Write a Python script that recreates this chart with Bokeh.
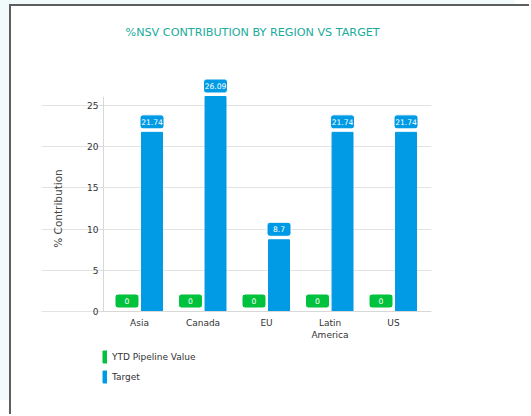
from math import pi
from bokeh.plotting import figure
from bokeh.models import (ColumnDataSource, Range1d, LabelSet, Label, Legend, LegendItem,
                          FixedTicker)
from bokeh.core.properties import value
from bokeh.embed import file_html
from bokeh.resources import INLINE

# ---- data ----
regions = ["Asia", "Canada", "EU", "Latin\nAmerica", "US"]
ytd_pipeline = [0, 0, 0, 0, 0]
target = [21.74, 26.09, 8.7, 21.74, 21.74]
ytd_labels = ["0", "0", "0", "0", "0"]
target_labels = ["21.74", "26.09", "8.7", "21.74", "21.74"]
y_ticks = [0, 5, 10, 15, 20, 25]
title_text = "%NSV CONTRIBUTION BY REGION VS TARGET"
y_title = "% Contribution"

GREEN = "#00c23c"
BLUE = "#009be4"
FONT = "DejaVu Sans"

idx = list(range(len(regions)))
off = 0.197
y_top = max(target)
px_per_unit = 215 / y_top          # vertical pixels per data unit
px_per_cat = 63.5                  # horizontal pixels per category
AXIS_X = -0.567                    # where the value axis sits
X_END = 4.598
lab_off = 10.5 / px_per_unit

src_g = ColumnDataSource(dict(x=[i - off for i in idx], top=ytd_pipeline,
                              ly=[v + lab_off for v in ytd_pipeline], txt=ytd_labels))
src_b = ColumnDataSource(dict(x=[i + off for i in idx], top=target,
                              ly=[v + lab_off for v in target], txt=target_labels))

# frame extends left of the value axis (axis title), above the top value
# (chart title, value labels) and below zero (legend); axes/grid are bounded.
p = figure(width=520, height=410, output_backend="svg", toolbar_location=None,
           x_range=Range1d(AXIS_X - 62 / px_per_cat, X_END),
           y_range=Range1d(-74 / px_per_unit, y_top + 80 / px_per_unit),
           min_border_left=30, min_border_top=10, min_border_right=100,
           min_border_bottom=31)
p.outline_line_color = None
p.background_fill_color = "white"
p.border_fill_color = "white"

r_g = p.vbar(x="x", top="top", width=0.33, source=src_g, fill_color=GREEN, line_color=GREEN)
r_b = p.vbar(x="x", top="top", width=0.33, source=src_b, fill_color=BLUE, line_color=BLUE)

# label boxes
p.rect(x="x", y="ly", width=24, height=14, width_units="screen", height_units="screen",
       source=src_g, fill_color=GREEN, line_color="white", line_width=1, border_radius=3)
p.rect(x="x", y="ly", width=24, height=14, width_units="screen", height_units="screen",
       source=src_b, fill_color=BLUE, line_color="white", line_width=1, border_radius=3)
for s in (src_g, src_b):
    p.add_layout(LabelSet(x="x", y="ly", text="txt", source=s, text_align="center",
                          text_baseline="middle", text_color="white",
                          text_font_size="7.6px", text_font=value(FONT)))

# axes
p.xaxis.fixed_location = 0
p.xaxis.bounds = (AXIS_X, X_END)
p.xaxis.ticker = FixedTicker(ticks=idx)
p.xaxis.major_label_overrides = {i: r for i, r in zip(idx, regions)}
p.xaxis.major_tick_line_color = None
p.xaxis.minor_tick_line_color = None
p.xaxis.axis_line_color = "#d8d8d8"
p.xaxis.major_label_text_font = FONT
p.xaxis.major_label_text_font_size = "9px"
p.xaxis.major_label_text_color = "#333333"
p.xaxis.major_label_standoff = 0

p.yaxis.fixed_location = AXIS_X
p.yaxis.ticker = FixedTicker(ticks=y_ticks)
p.yaxis.bounds = (0, y_top)
p.yaxis.axis_line_color = "#d8d8d8"
p.yaxis.major_tick_line_color = "#d8d8d8"
p.yaxis.major_tick_in = 0
p.yaxis.major_tick_out = 3
p.yaxis.minor_tick_line_color = None
p.yaxis.major_label_text_font = FONT
p.yaxis.major_label_text_font_size = "9px"
p.yaxis.major_label_text_color = "#333333"
p.yaxis.major_label_standoff = 2

p.add_layout(Label(x=AXIS_X, y=y_top / 2, x_offset=-46, y_offset=-4.5, angle=pi / 2,
                   text=y_title, text_align="center", text_baseline="middle",
                   text_font=FONT, text_font_size="10.5px", text_color="#444444"))

p.add_layout(Label(x=AXIS_X, y=p.y_range.end, x_offset=22, y_offset=-16,
                   text=title_text, text_align="left", text_baseline="middle",
                   text_font=FONT, text_font_size="11.2px", text_color="#19ab9c"))

p.xgrid.grid_line_color = None
p.ygrid.grid_line_color = "#e3e3e3"
p.ygrid.bounds = (AXIS_X, X_END)

legend = Legend(items=[LegendItem(label="YTD Pipeline Value", renderers=[r_g]),
                       LegendItem(label="Target", renderers=[r_b])],
                location=(61, 1), orientation="vertical", margin=0, padding=0,
                spacing=5, glyph_width=5, glyph_height=15, label_standoff=5,
                border_line_color=None, background_fill_alpha=0,
                label_text_font=FONT, label_text_font_size="9px",
                label_text_color="#333333")
p.add_layout(legend)

p.styles = {"margin-left": "9px", "margin-top": "4px",
            "border-left": "2px solid #5e5e5e", "border-top": "2px solid #5e5e5e",
            "box-shadow": "-14px -14px 0 0 #f2fbfb"}

open("out.html", "w").write(file_html(p, INLINE))
